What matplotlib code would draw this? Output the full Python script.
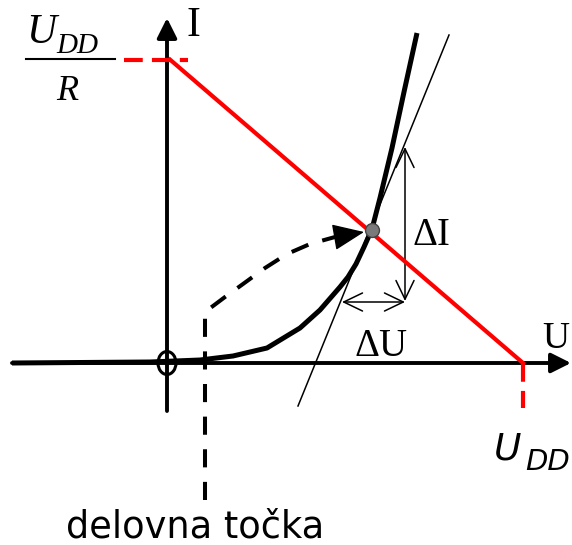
import numpy as np
import matplotlib.pyplot as plt
from matplotlib.patches import Ellipse, ArrowStyle

# diode I-U characteristic (u, i), origin at the axes crossing
diode_u = [-155, -17, 33, 66, 100, 133, 153, 173, 181, 189, 197, 205, 213, 225, 237, 250]
diode_i = [0, 1, 3, 7, 15, 35, 53, 76, 86, 99, 116, 134, 165, 215, 271, 330]

# supply voltage and short-circuit current U_DD/R of the load line
U_DD = 356
I_K = 306

# operating point
Uq, Iq = 205, 133

# tangent through the operating point
tang_u = [131, 282]
tang_i = [-43, 328]

# small-signal increments drawn next to the tangent
dU = (175, 238)      # ΔU arrow, left/right end
dI = (62, 216)       # ΔI arrow, bottom/top end

# dashed pointer from the label to the operating point
ptr_u = [38, 38, 58, 76, 98, 120, 143, 168]
ptr_i = [-137, 51, 66, 79, 95, 109, 119, 126]

SERIF = 'Liberation Serif'

fig = plt.figure(figsize=(5.72, 5.45), dpi=100)
ax = fig.add_axes([0, 0, 1, 1])
ax.set_xlim(-167, 405)
ax.set_ylim(-182, 363)
ax.axis('off')

# coordinate axes with arrows
axis_arrow = dict(arrowstyle=ArrowStyle('-|>', head_length=0.6, head_width=0.3),
                  mutation_scale=20, lw=2.8, color='k', shrinkA=0, shrinkB=0)
ax.annotate('', xy=(404, 0), xytext=(-155, 0), arrowprops=axis_arrow)
ax.annotate('', xy=(0, 345), xytext=(0, -48), arrowprops=axis_arrow)
ax.add_patch(Ellipse((0, 0), 18, 23, fill=False, lw=2.2, color='k', zorder=5))

# tangent
ax.plot(tang_u, tang_i, color='k', lw=1.1, zorder=3)

# characteristic
ax.plot(diode_u, diode_i, color='k', lw=3.6, solid_joinstyle='round',
        solid_capstyle='butt', zorder=4)

# load line and its end markers
ax.plot([3, U_DD], [I_K - 3 * I_K / U_DD, 0], color='#ff0000', lw=3, zorder=6)
ax.plot([-43, 21], [I_K - 3, I_K - 3], color='#ff0000', lw=3,
        dashes=(4.5, 2.2), dash_capstyle='butt', zorder=6)
ax.plot([U_DD, U_DD], [0, -45], color='#ff0000', lw=3,
        dashes=(4.5, 2.2), dash_capstyle='butt', zorder=6)

# operating point
ax.plot([Uq], [Iq], 'o', ms=10, mfc='#7a7a7a', mec='#444444', mew=1, zorder=8)

# ΔU and ΔI
inc_arrow = dict(arrowstyle=ArrowStyle('<->', head_length=1.35, head_width=0.65),
                 mutation_scale=10, lw=1.1, color='k', shrinkA=0, shrinkB=0)
ax.annotate('', xy=(dU[0], dI[0] - 1), xytext=(dU[1], dI[0] - 1), arrowprops=inc_arrow)
ax.annotate('', xy=(dU[1], dI[0]), xytext=(dU[1], dI[1]), arrowprops=inc_arrow)

# dashed pointer to the operating point
ax.plot(ptr_u, ptr_i, color='k', lw=2.9, dashes=(4.5, 3.6),
        dash_capstyle='butt', zorder=7)
ax.annotate('', xy=(Uq - 8, Iq - 2), xytext=(ptr_u[-1], ptr_i[-1]),
            arrowprops=dict(arrowstyle=ArrowStyle('-|>', head_length=1.0, head_width=0.42),
                            mutation_scale=20, lw=1, color='k',
                            shrinkA=0, shrinkB=0), zorder=7)

# labels
ax.text(19, 327, 'I', family=SERIF, fontsize=30, ha='left', va='baseline')
ax.text(375, 15, 'U', family=SERIF, fontsize=27, ha='left', va='baseline')
ax.text(245, 118, 'ΔI', family=SERIF, fontsize=28, ha='left', va='baseline')
ax.text(187, 7, 'ΔU', family=SERIF, fontsize=28, ha='left', va='baseline')

# U_DD / R fraction
ax.text(-141, 320, 'U', family=SERIF, style='italic', fontsize=30,
        ha='left', va='baseline')
ax.text(-111, 310, 'DD', family=SERIF, style='italic', fontsize=21,
        ha='left', va='baseline')
ax.plot([-141, -52], [304, 304], color='k', lw=1.5)
ax.text(-111, 263, 'R', family=SERIF, style='italic', fontsize=26,
        ha='left', va='baseline')

# U_DD under the U axis
ax.text(327, -97, 'U', family='DejaVu Sans', style='oblique', fontsize=27,
        ha='left', va='baseline')
ax.text(358, -107, 'DD', family='DejaVu Sans', style='oblique', fontsize=21,
        ha='left', va='baseline')

ax.text(-101, -175, 'delovna točka', family='DejaVu Sans', fontsize=26.5,
        ha='left', va='baseline')

fig.savefig('out.png', dpi=100)
